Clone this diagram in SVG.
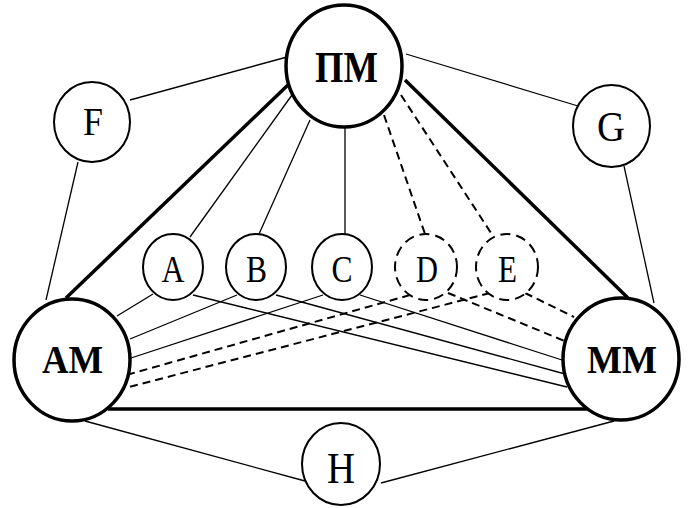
<svg xmlns="http://www.w3.org/2000/svg" width="689" height="508" viewBox="0 0 689 508">
<style>
.bg{fill:#fff}
.big{fill:#fff;stroke:#000;stroke-width:3.5}
.sm{fill:#fff;stroke:#000;stroke-width:2}
.dsh{fill:#fff;stroke:#000;stroke-width:2;stroke-dasharray:10 6}
.thick{stroke:#000;stroke-width:3.5;fill:none}
.thin{stroke:#000;stroke-width:1.3;fill:none}
.dl{stroke:#000;stroke-width:2;fill:none;stroke-dasharray:8 5}
.tb{font-family:"Liberation Serif","Times New Roman",serif;font-weight:bold;text-anchor:middle;fill:#000}
.tr{font-family:"Liberation Serif","Times New Roman",serif;text-anchor:middle;fill:#000}
</style>
<rect class="bg" x="0" y="0" width="689" height="508"/>
<g id="connectors">
<line class="thick" x1="289" y1="84" x2="66" y2="298"/>
<line class="thick" x1="405" y1="80" x2="628" y2="298"/>
<line class="thick" x1="108" y1="409" x2="588" y2="409"/>
<line class="thin" x1="130" y1="100" x2="287" y2="57"/>
<line class="thin" x1="406" y1="54" x2="578" y2="106"/>
<line class="thin" x1="78" y1="162" x2="46" y2="300"/>
<line class="thin" x1="624" y1="166" x2="654" y2="303"/>
<line class="thin" x1="85" y1="421" x2="305" y2="481"/>
<line class="thin" x1="381" y1="483" x2="614" y2="421"/>
<line class="thin" x1="292" y1="95" x2="190" y2="237"/>
<line class="thin" x1="310" y1="120" x2="259" y2="234"/>
<line class="thin" x1="345" y1="127" x2="345" y2="235"/>
<line class="dl" x1="384" y1="115" x2="425" y2="234"/>
<line class="dl" x1="401" y1="95" x2="493" y2="236"/>
<line class="thin" x1="153" y1="294" x2="117" y2="316"/>
<line class="thin" x1="193" y1="295" x2="567" y2="387"/>
<line class="thin" x1="237" y1="295" x2="130" y2="339"/>
<line class="thin" x1="276" y1="295" x2="565" y2="374"/>
<line class="thin" x1="323" y1="295" x2="131" y2="358"/>
<line class="thin" x1="360" y1="295" x2="562" y2="360"/>
<line class="dl" x1="410" y1="295" x2="130" y2="374"/>
<line class="dl" x1="490" y1="293" x2="129" y2="387"/>
<line class="dl" x1="448" y1="293" x2="567" y2="342"/>
<line class="dl" x1="525" y1="293" x2="574" y2="317"/>
</g>
<g id="node-PM"><ellipse class="big" cx="344" cy="66" rx="58" ry="61"/><text class="tb" x="346.5" y="82" font-size="44" textLength="63" lengthAdjust="spacingAndGlyphs">ПМ</text></g>
<g id="node-AM"><ellipse class="big" cx="72" cy="360" rx="58" ry="61"/><text class="tb" x="72.5" y="373" font-size="39" textLength="61" lengthAdjust="spacingAndGlyphs">АМ</text></g>
<g id="node-MM"><ellipse class="big" cx="621" cy="359" rx="58" ry="61"/><text class="tb" x="622" y="373" font-size="39" textLength="70" lengthAdjust="spacingAndGlyphs">ММ</text></g>
<g id="node-F"><ellipse class="sm" cx="92" cy="122" rx="38" ry="40"/><text class="tr" x="93" y="135" font-size="41" textLength="20" lengthAdjust="spacingAndGlyphs">F</text></g>
<g id="node-G"><ellipse class="sm" cx="611.5" cy="126" rx="38.5" ry="41"/><text class="tr" x="611" y="141" font-size="43" textLength="28" lengthAdjust="spacingAndGlyphs">G</text></g>
<g id="node-H"><ellipse class="sm" cx="341" cy="464" rx="39" ry="41"/><text class="tr" x="341" y="483" font-size="44" textLength="28" lengthAdjust="spacingAndGlyphs">H</text></g>
<g id="node-A"><ellipse class="sm" cx="173" cy="267" rx="30" ry="33"/><text class="tr" x="173" y="282" font-size="38" textLength="23" lengthAdjust="spacingAndGlyphs">A</text></g>
<g id="node-B"><ellipse class="sm" cx="256" cy="267" rx="30" ry="33"/><text class="tr" x="256.5" y="282" font-size="38" textLength="21" lengthAdjust="spacingAndGlyphs">B</text></g>
<g id="node-C"><ellipse class="sm" cx="342" cy="267" rx="30" ry="33"/><text class="tr" x="342" y="282" font-size="38" textLength="21" lengthAdjust="spacingAndGlyphs">C</text></g>
<g id="node-D"><ellipse class="dsh" cx="426" cy="267" rx="31" ry="33"/><text class="tr" x="427" y="282" font-size="38" textLength="22" lengthAdjust="spacingAndGlyphs">D</text></g>
<g id="node-E"><ellipse class="dsh" cx="507" cy="267" rx="31" ry="33"/><text class="tr" x="507.5" y="282" font-size="38" textLength="19" lengthAdjust="spacingAndGlyphs">E</text></g>
</svg>
